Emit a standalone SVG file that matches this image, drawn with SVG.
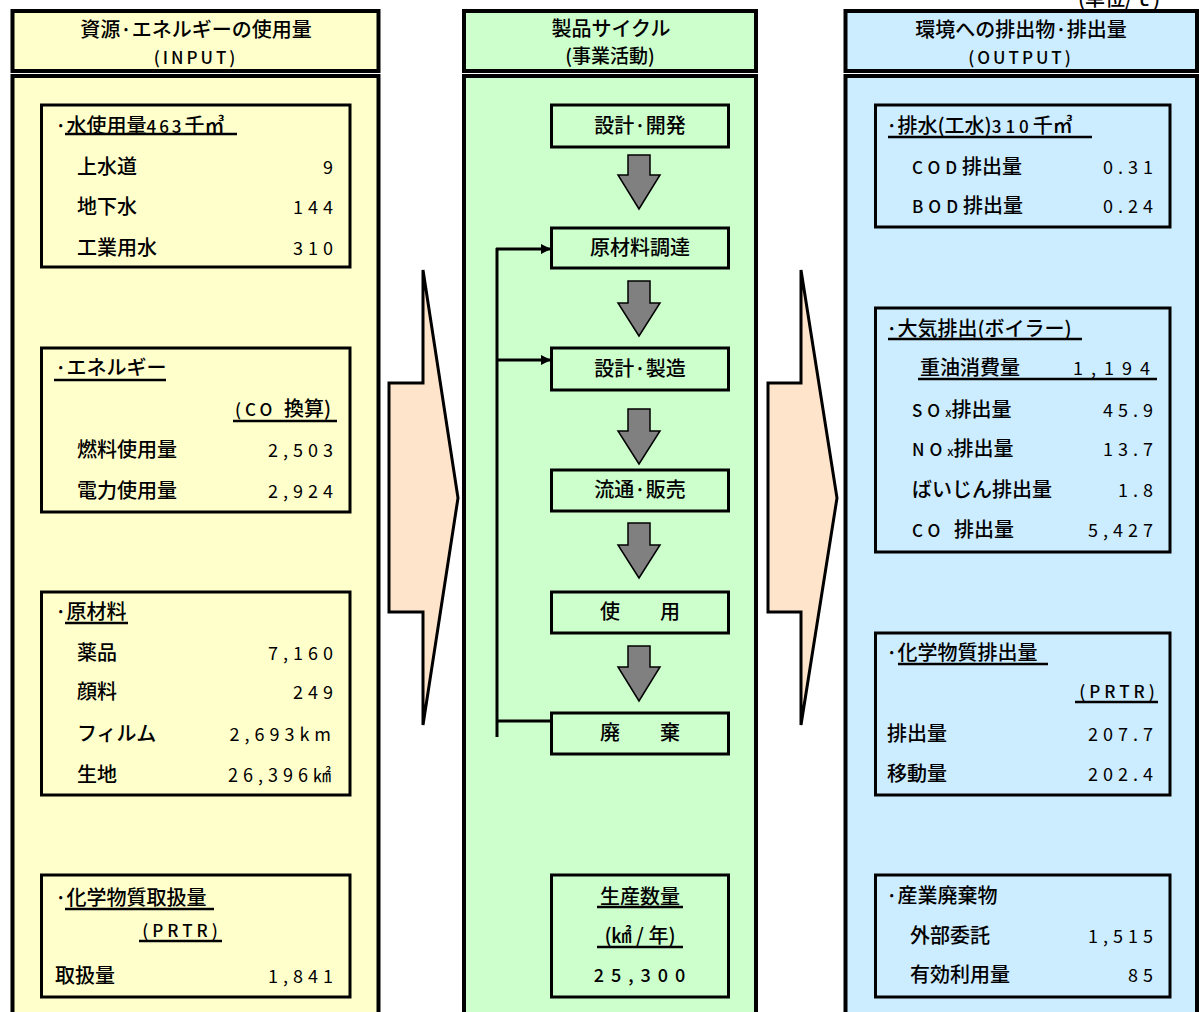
<svg xmlns="http://www.w3.org/2000/svg" width="1199" height="1012" viewBox="0 0 1199 1012">
<style>
.t{font-family:"Noto Sans CJK JP","Noto Sans",sans-serif;font-size:20px;font-weight:500;fill:#000}
.n{font-family:"Noto Sans CJK JP","Noto Sans",sans-serif;font-size:18px;letter-spacing:5px;text-anchor:end;fill:#000}
.c{text-anchor:middle}
.col{stroke:#000;stroke-width:4}
.box{fill:none;stroke:#000;stroke-width:3}
.pbox{fill:#CCFFCC;stroke:#000;stroke-width:3}
.ul{stroke:#000;stroke-width:2.5}
.ga{fill:#808080;stroke:#000;stroke-width:1.5}
.big{fill:#FFE4CC;stroke:#000;stroke-width:3}
.fb{fill:none;stroke:#000;stroke-width:3}
</style>
<defs>
<marker id="ah" markerWidth="10" markerHeight="10" refX="9" refY="5" orient="auto" markerUnits="userSpaceOnUse" viewBox="0 0 10 10">
<path d="M0,0 L10,5 L0,10 Z" fill="#000"/>
</marker>
</defs>
<rect width="1199" height="1012" fill="#fff"/>
<text class="t" x="1078" y="6">(単位/ｔ)</text>

<!-- Left column -->
<g id="input-col">
<rect class="col" x="12.5" y="11" width="366" height="60" fill="#FFFFCC"/>
<rect class="col" x="12.5" y="76" width="366" height="950" fill="#FFFFCC"/>
<text class="t c" x="196" y="37">資源·エネルギーの使用量</text>
<text class="t c" x="196" y="64" style="font-size:17px;letter-spacing:3px">(INPUT)</text>
</g>

<g id="water">
<rect class="box" x="41.5" y="105" width="308.5" height="162"/>
<text class="t" x="55" y="133">·水使用量<tspan style="font-size:17px;letter-spacing:3px">463</tspan>千㎥</text>
<line class="ul" x1="65" y1="134" x2="237" y2="134"/>
<text class="t" x="77" y="174">上水道</text><text class="n" x="338" y="174">9</text>
<text class="t" x="77" y="214">地下水</text><text class="n" x="338" y="214">144</text>
<text class="t" x="77" y="255">工業用水</text><text class="n" x="338" y="255">310</text>
</g>

<g id="energy">
<rect class="box" x="41.5" y="348" width="308.5" height="164"/>
<text class="t" x="55" y="375">·エネルギー</text>
<line class="ul" x1="54" y1="380" x2="166" y2="380"/>
<text class="t" x="235" y="416"><tspan style="font-size:17px;letter-spacing:4px">(CO </tspan>換算)</text>
<line class="ul" x1="233" y1="421" x2="337" y2="421"/>
<text class="t" x="77" y="457">燃料使用量</text><text class="n" x="338" y="457">2,503</text>
<text class="t" x="77" y="498">電力使用量</text><text class="n" x="338" y="498">2,924</text>
</g>

<g id="materials">
<rect class="box" x="41.5" y="592" width="308.5" height="203"/>
<text class="t" x="55" y="619">·原材料</text>
<line class="ul" x1="65" y1="623" x2="128" y2="623"/>
<text class="t" x="77" y="660">薬品</text><text class="n" x="338" y="660">7,160</text>
<text class="t" x="77" y="699">顔料</text><text class="n" x="338" y="699">249</text>
<text class="t" x="77" y="741">フィルム</text><text class="n" x="336" y="741">2,693km</text>
<text class="t" x="77" y="782">生地</text><text class="n" x="336" y="782">26,396㎢</text>
</g>

<g id="chem-handling">
<rect class="box" x="41.5" y="875" width="308.5" height="122"/>
<text class="t" x="55" y="905">·化学物質取扱量</text>
<line class="ul" x1="65" y1="909" x2="214" y2="909"/>
<text class="t c" x="182" y="937" style="font-size:17px;letter-spacing:4px">(PRTR)</text>
<line class="ul" x1="139" y1="941" x2="222" y2="941"/>
<text class="t" x="55" y="983">取扱量</text><text class="n" x="338" y="983">1,841</text>
</g>

<!-- Middle column -->
<g id="cycle-col">
<rect class="col" x="464" y="11" width="292" height="60" fill="#CCFFCC"/>
<rect class="col" x="464" y="76" width="292" height="950" fill="#CCFFCC"/>
<text class="t c" x="611" y="36">製品サイクル</text>
<text class="t c" x="610" y="63" style="font-size:19px">(事業活動)</text>
</g>

<g id="p1"><rect class="pbox" x="551.5" y="105" width="177" height="42"/><text class="t c" x="640" y="133">設計·開発</text></g>
<g id="p2"><rect class="pbox" x="551.5" y="228" width="177" height="40"/><text class="t c" x="640" y="255">原材料調達</text></g>
<g id="p3"><rect class="pbox" x="551.5" y="348" width="177" height="42"/><text class="t c" x="640" y="376">設計·製造</text></g>
<g id="p4"><rect class="pbox" x="551.5" y="470" width="177" height="41"/><text class="t c" x="640" y="497">流通·販売</text></g>
<g id="p5"><rect class="pbox" x="551.5" y="592" width="177" height="41"/><text class="t c" x="640" y="619">使　　用</text></g>
<g id="p6"><rect class="pbox" x="551.5" y="713" width="177" height="41"/><text class="t c" x="640" y="740">廃　　棄</text></g>

<g id="production">
<rect class="box" x="551.5" y="875" width="177" height="122"/>
<text class="t c" x="640" y="904">生産数量</text>
<line class="ul" x1="597" y1="907" x2="683" y2="907"/>
<text class="t c" x="640" y="943">(㎢ / 年)</text>
<line class="ul" x1="597" y1="947" x2="683" y2="947"/>
<text class="t c" x="643" y="982" style="font-size:18px;letter-spacing:7px">25,300</text>
</g>

<!-- Right column -->
<g id="output-col">
<rect class="col" x="845.5" y="11" width="351.5" height="60" fill="#CCECFF"/>
<rect class="col" x="845.5" y="76" width="351.5" height="950" fill="#CCECFF"/>
<text class="t c" x="1021" y="37">環境への排出物·排出量</text>
<text class="t c" x="1021" y="64" style="font-size:17px;letter-spacing:3px">(OUTPUT)</text>
</g>

<g id="drain">
<rect class="box" x="875.5" y="105" width="294.5" height="122"/>
<text class="t" x="886" y="133">·排水(工水)<tspan style="font-size:17px;letter-spacing:4px">310</tspan>千㎥</text>
<line class="ul" x1="888" y1="137" x2="1092" y2="137"/>
<text class="t" x="912" y="174"><tspan style="font-size:17px;letter-spacing:5px">COD</tspan>排出量</text><text class="n" x="1158" y="174">0.31</text>
<text class="t" x="912" y="213"><tspan style="font-size:17px;letter-spacing:5px">BOD</tspan>排出量</text><text class="n" x="1158" y="213">0.24</text>
</g>

<g id="air">
<rect class="box" x="875.5" y="308" width="294.5" height="244"/>
<text class="t" x="886" y="336">·大気排出(ボイラー)</text>
<line class="ul" x1="888" y1="339" x2="1082" y2="339"/>
<text class="t" x="920" y="375">重油消費量</text><text class="n" x="1158" y="375" style="letter-spacing:8px">1,194</text>
<line class="ul" x1="918" y1="379" x2="1157" y2="379"/>
<text class="t" x="912" y="417"><tspan style="font-size:17px;letter-spacing:5px">SO</tspan><tspan style="font-size:12px">x</tspan>排出量</text><text class="n" x="1158" y="417">45.9</text>
<text class="t" x="912" y="456"><tspan style="font-size:17px;letter-spacing:5px">NO</tspan><tspan style="font-size:12px">x</tspan>排出量</text><text class="n" x="1158" y="456">13.7</text>
<text class="t" x="912" y="497">ばいじん排出量</text><text class="n" x="1158" y="497">1.8</text>
<text class="t" x="912" y="537"><tspan style="font-size:17px;letter-spacing:5px">CO </tspan>排出量</text><text class="n" x="1158" y="537">5,427</text>
</g>

<g id="chem-emission">
<rect class="box" x="875.5" y="633" width="294.5" height="162"/>
<text class="t" x="886" y="660">·化学物質排出量</text>
<line class="ul" x1="898" y1="664" x2="1048" y2="664"/>
<text class="t c" x="1119" y="698" style="font-size:17px;letter-spacing:4px">(PRTR)</text>
<line class="ul" x1="1075" y1="702" x2="1158" y2="702"/>
<text class="t" x="887" y="741">排出量</text><text class="n" x="1158" y="741">207.7</text>
<text class="t" x="887" y="781">移動量</text><text class="n" x="1158" y="781">202.4</text>
</g>

<g id="waste">
<rect class="box" x="875.5" y="875" width="294.5" height="122"/>
<text class="t" x="886" y="903">·産業廃棄物</text>
<text class="t" x="910" y="943">外部委託</text><text class="n" x="1158" y="943">1,515</text>
<text class="t" x="910" y="982">有効利用量</text><text class="n" x="1158" y="982">85</text>
</g>

<!-- Connectors -->
<g id="connectors">
<polygon class="big" points="389,383 423,383 423,270 458,498 423,725 423,612 389,612"/>
<polygon class="big" points="768,383 801,383 801,270 837,498 801,725 801,612 768,612"/>
<path class="ga" d="M628,155 L650,155 L650,175 L660,175 L639,209 L618,175 L628,175 Z"/>
<path class="ga" d="M628,281 L650,281 L650,303 L660,303 L639,336 L618,303 L628,303 Z"/>
<path class="ga" d="M628,409 L650,409 L650,431 L660,431 L639,464 L618,431 L628,431 Z"/>
<path class="ga" d="M628,523 L650,523 L650,545 L660,545 L639,578 L618,545 L628,545 Z"/>
<path class="ga" d="M628,646 L650,646 L650,667 L660,667 L639,701 L618,667 L628,667 Z"/>
<line class="fb" x1="497" y1="248" x2="497" y2="737"/>
<line class="fb" x1="496" y1="249" x2="550" y2="249" marker-end="url(#ah)"/>
<line class="fb" x1="497" y1="360" x2="550" y2="360" marker-end="url(#ah)"/>
<line class="fb" x1="497" y1="721" x2="551" y2="721"/>
</g>
</svg>
